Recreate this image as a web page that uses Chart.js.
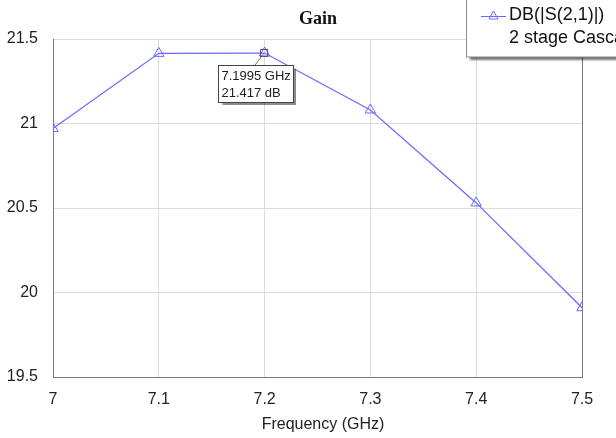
<!DOCTYPE html>
<html>
<head>
<meta charset="utf-8">
<script src="https://cdn.jsdelivr.net/npm/chart.js@4"></script>
<style>
  body { margin: 0; background: #fff; }
  #gainChart { display: block; }
</style>
</head>
<body>
<canvas id="gainChart" width="616" height="438"></canvas>
<script>
// sweep points (GHz) and S21 gain (dB)
var freqs = [7.0, 7.1, 7.2, 7.3, 7.4, 7.5];
var gainDb = [20.97, 21.415, 21.417, 21.08, 20.53, 19.91];

var xTicks = [7, 7.1, 7.2, 7.3, 7.4, 7.5];
var yTicks = [19.5, 20, 20.5, 21, 21.5];

// marker readout
var markerFreq = 7.1995;
var markerGain = 21.417;

var seriesName = 'DB(|S(2,1)|)';
var seriesSub = '2 stage Cascade';
var xTitle = 'Frequency (GHz)';
var lineColor = 'rgb(105, 105, 255)';

var points = freqs.map(function (f, i) { return { x: f, y: gainDb[i] }; });

// title, axis label, marker box and legend drawn on top of the plot
var overlays = {
    id: 'overlays',
    afterDraw: function (chart) {
        var ctx = chart.ctx;
        var xs = chart.scales.x, ys = chart.scales.y;
        var area = chart.chartArea;

        // right frame edge
        ctx.save();
        ctx.strokeStyle = '#7a7a7a';
        ctx.lineWidth = 1;
        ctx.beginPath();
        ctx.moveTo(Math.round(area.right) + 0.5, area.top);
        ctx.lineTo(Math.round(area.right) + 0.5, area.bottom);
        ctx.stroke();
        ctx.restore();

        // title
        ctx.save();
        ctx.fillStyle = '#111';
        ctx.font = 'bold 18px "Liberation Serif"';
        ctx.textAlign = 'center';
        ctx.textBaseline = 'middle';
        ctx.fillText('Gain', 318, 19);

        // x axis label
        ctx.fillStyle = '#222';
        ctx.font = '16px "Liberation Sans"';
        ctx.fillText(xTitle, 323, 425);
        ctx.restore();

        // marker
        var px = xs.getPixelForValue(markerFreq);
        var py = ys.getPixelForValue(markerGain);
        ctx.save();
        ctx.strokeStyle = '#777';
        ctx.lineWidth = 1;
        ctx.beginPath();
        ctx.moveTo(px, py);
        ctx.lineTo(px - 9, py + 12);
        ctx.stroke();
        ctx.strokeStyle = '#556';
        ctx.strokeRect(px - 3.5, py - 3.5, 7, 7);

        var bx = Math.round(px - 46) + 0.5, by = Math.round(py + 12) + 0.5, bw = 75, bh = 37;
        ctx.shadowColor = 'rgba(0,0,0,0.45)';
        ctx.shadowOffsetX = 2;
        ctx.shadowOffsetY = 2;
        ctx.shadowBlur = 1;
        ctx.fillStyle = '#fff';
        ctx.fillRect(bx, by, bw, bh);
        ctx.shadowColor = 'transparent';
        ctx.strokeStyle = '#444';
        ctx.strokeRect(bx, by, bw, bh);
        ctx.fillStyle = '#222';
        ctx.font = '13px "Liberation Sans"';
        ctx.textAlign = 'left';
        ctx.textBaseline = 'middle';
        ctx.fillText(markerFreq + ' GHz', bx + 3, by + 11);
        ctx.fillText(markerGain + ' dB', bx + 3, by + 28);
        ctx.restore();

        // legend box in the top right corner
        ctx.save();
        var lx = 466.5, ly = -5, lw = 170, lh = 62;
        ctx.shadowColor = 'rgba(0,0,0,0.55)';
        ctx.shadowOffsetX = 3;
        ctx.shadowOffsetY = 3;
        ctx.shadowBlur = 2;
        ctx.fillStyle = '#fff';
        ctx.fillRect(lx, ly, lw, lh);
        ctx.shadowColor = 'transparent';
        ctx.strokeStyle = '#888';
        ctx.lineWidth = 1;
        ctx.strokeRect(lx, ly, lw, lh);

        ctx.strokeStyle = lineColor;
        ctx.beginPath();
        ctx.moveTo(481, 16.5);
        ctx.lineTo(506, 16.5);
        ctx.stroke();
        ctx.beginPath();
        ctx.moveTo(493.5, 11);
        ctx.lineTo(498, 19);
        ctx.lineTo(489, 19);
        ctx.closePath();
        ctx.stroke();

        ctx.fillStyle = '#111';
        ctx.font = '18px "Liberation Sans"';
        ctx.textAlign = 'left';
        ctx.textBaseline = 'middle';
        ctx.fillText(seriesName, 509, 15);
        ctx.fillText(seriesSub, 509, 38);
        ctx.restore();
    }
};

var ctx = document.getElementById('gainChart').getContext('2d');
var gainChart = new Chart(ctx, {
    type: 'scatter',
    data: {
        datasets: [{
            label: seriesName,
            data: points,
            showLine: true,
            borderColor: lineColor,
            borderWidth: 1.2,
            pointStyle: 'triangle',
            pointRadius: 6,
            pointBorderWidth: 1,
            pointBorderColor: lineColor,
            pointBackgroundColor: 'rgba(0,0,0,0)'
        }]
    },
    options: {
        responsive: false,
        animation: false,
        layout: { padding: { top: 39, right: 34, left: 0, bottom: 0 } },
        plugins: {
            legend: { display: false },
            tooltip: { enabled: false }
        },
        scales: {
            x: {
                type: 'linear',
                min: 7,
                max: 7.5,
                afterBuildTicks: function (scale) {
                    scale.ticks = xTicks.map(function (v) { return { value: v }; });
                },
                afterFit: function (scale) { scale.height = 61; },
                ticks: {
                    padding: 13,
                    color: '#222',
                    font: { family: 'Liberation Sans', size: 16 },
                    callback: function (v) { return String(v); }
                },
                grid: { color: '#dcdcdc', drawTicks: false },
                border: { color: '#7a7a7a', width: 1 }
            },
            y: {
                type: 'linear',
                min: 19.5,
                max: 21.5,
                afterBuildTicks: function (scale) {
                    scale.ticks = yTicks.map(function (v) { return { value: v }; });
                },
                afterFit: function (scale) { scale.width = 53; },
                ticks: {
                    padding: 15,
                    color: '#222',
                    font: { family: 'Liberation Sans', size: 16 },
                    callback: function (v) { return String(v); }
                },
                grid: { color: '#dcdcdc', drawTicks: false },
                border: { color: '#7a7a7a', width: 1 }
            }
        }
    },
    plugins: [overlays]
});
</script>
</body>
</html>
